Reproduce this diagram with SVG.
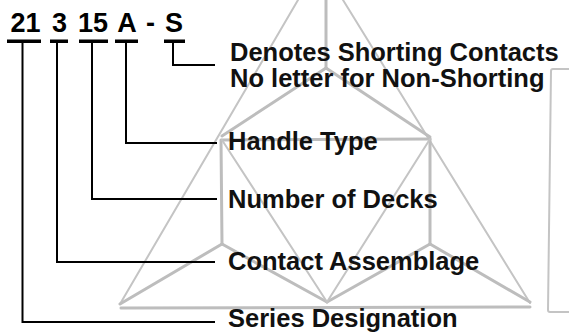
<svg xmlns="http://www.w3.org/2000/svg" width="569" height="333" viewBox="0 0 569 333">
<style>
.wm{fill:none;stroke:#bdbdbd;stroke-width:3;stroke-linecap:round;stroke-linejoin:round}
.wt{fill:none;stroke:#c4c4c4;stroke-width:2;stroke-linecap:round}
.ld{fill:none;stroke:#000;stroke-width:2}
.bar{fill:#000}
.code{font-family:"Liberation Sans",Arial,sans-serif;font-weight:bold;font-size:27px;fill:#000;text-anchor:middle}
.lab{font-family:"Liberation Sans",Arial,sans-serif;font-weight:bold;font-size:25.5px;fill:#111}
</style>
<rect width="569" height="333" fill="#fff"/>
<g id="watermark">
<line class="wt" x1="298" y1="0" x2="120" y2="304"/>
<line class="wt" x1="343" y1="0" x2="530" y2="303"/>
<line class="wm" x1="326" y1="0" x2="326" y2="68"/>
<line class="wm" x1="326" y1="68" x2="222" y2="136"/>
<line class="wm" x1="326" y1="68" x2="430" y2="137"/>
<line class="wm" x1="222" y1="140" x2="430" y2="139"/>
<line class="wm" x1="221" y1="140" x2="222" y2="244"/>
<line class="wm" x1="430" y1="139" x2="430" y2="244"/>
<line class="wm" x1="222" y1="244" x2="120" y2="304"/>
<line class="wm" x1="222" y1="244" x2="327" y2="302"/>
<line class="wm" x1="430" y1="244" x2="327" y2="302"/>
<line class="wm" x1="430" y1="244" x2="530" y2="302"/>
<line class="wt" x1="222" y1="140" x2="327" y2="302"/>
<line class="wt" x1="430" y1="139" x2="327" y2="302"/>
<line class="wm" x1="121" y1="308" x2="530" y2="307"/>
<path class="wt" d="M569 69 H553 Q551 69 551 71 L548 310 Q548 312 550 312 H569"/>
</g>
<g id="code">
<text class="code" x="25.5" y="32">21</text>
<text class="code" x="59.5" y="32">3</text>
<text class="code" x="93" y="32">15</text>
<text class="code" x="127" y="32">A</text>
<text class="code" x="150.5" y="32">-</text>
<text class="code" x="174" y="32">S</text>
<rect class="bar" x="7" y="39.5" width="34" height="3.5"/>
<rect class="bar" x="50" y="39.5" width="18" height="3.5"/>
<rect class="bar" x="79" y="39.5" width="29" height="3.5"/>
<rect class="bar" x="115" y="39.5" width="23" height="3.5"/>
<rect class="bar" x="164" y="39.5" width="21" height="3.5"/>
</g>
<g id="connectors">
<polyline class="ld" points="173,43 173,65 215,65"/>
<polyline class="ld" points="126,43 126,143 217,143"/>
<polyline class="ld" points="92,43 92,199 217,199"/>
<polyline class="ld" points="57,43 57,262 215,262"/>
<polyline class="ld" points="22.5,43 22.5,322 215,322"/>
</g>
<g id="label-shorting">
<text class="lab" x="230" y="61">Denotes Shorting Contacts</text>
<text class="lab" x="230" y="87">No letter for Non-Shorting</text>
</g>
<g id="label-handle"><text class="lab" x="228" y="150">Handle Type</text></g>
<g id="label-decks"><text class="lab" x="228" y="208">Number of Decks</text></g>
<g id="label-contact"><text class="lab" x="228" y="270">Contact Assemblage</text></g>
<g id="label-series"><text class="lab" x="228" y="327">Series Designation</text></g>
</svg>
